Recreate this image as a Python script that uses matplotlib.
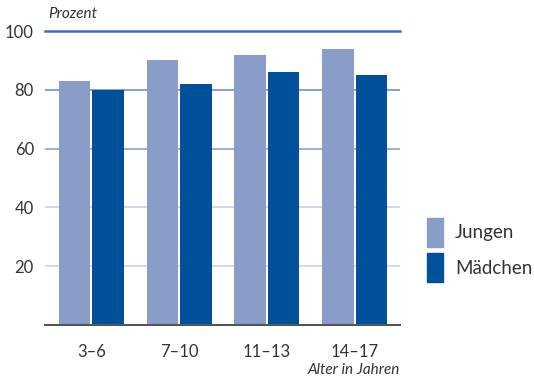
import numpy as np
import matplotlib.pyplot as plt
from matplotlib.patches import Patch

# Anteil in Prozent nach Altersgruppe
altersgruppen = ["3–6", "7–10", "11–13", "14–17"]
jungen = [83, 90, 92, 94]
maedchen = [80, 82, 86, 85]
yticks = [20, 40, 60, 80, 100]

c_jungen = "#8a9cc8"
c_maedchen = "#00509a"
txt = "#333333"

plt.rcParams['font.family'] = ['Lato', 'DejaVu Sans']

fig = plt.figure(figsize=(5.34, 3.81), dpi=100)
ax = fig.add_axes([45/534, 56/381, 355/534, 294/381])

x = np.arange(len(altersgruppen))
w = 0.36
ax.bar(x - 0.19, jungen, w, color=c_jungen, zorder=3)
ax.bar(x + 0.19, maedchen, w, color=c_maedchen, zorder=3)

# Gitterlinien
grid_cols = {20: "#c8d3ea", 40: "#c8d3ea", 60: "#8aa3d0", 80: "#6f8fc4"}
for v, c in grid_cols.items():
    ax.axhline(v, color=c, lw=1.2, zorder=1)
ax.axhline(100, color="#3a72b4", lw=1.8, zorder=1, clip_on=False)
ax.axhline(0, color="#555555", lw=1.5, zorder=4, clip_on=False)

ax.set_xlim(-0.528, 3.517)
ax.set_ylim(0, 100)
ax.set_yticks(yticks)
ax.set_yticklabels([str(v) for v in yticks], fontsize=12, color=txt)
ax.set_xticks(x)
ax.set_xticklabels(altersgruppen, fontsize=12, color=txt)
ax.tick_params(axis='y', length=0, pad=8)
ax.tick_params(axis='x', length=0, pad=14)
for s in ax.spines.values():
    s.set_visible(False)

fig.text(48/534, 1 - 14/381, "Prozent", fontsize=11, style='italic',
         color=txt, va='center', ha='left')
fig.text(400/534, 1 - 370/381, "Alter in Jahren", fontsize=11, style='italic',
         color=txt, va='center', ha='right')

handles = [Patch(color=c_jungen), Patch(color=c_maedchen)]
fig.legend(handles, ["Jungen", "Mädchen"], loc='center left',
           bbox_to_anchor=(427/534, 1 - 250/381), frameon=False,
           borderpad=0, borderaxespad=0,
           fontsize=13.5, handlelength=0.85, handleheight=2.05,
           labelspacing=0.3, handletextpad=0.65, labelcolor=txt)

fig.savefig("out.png", dpi=100)
